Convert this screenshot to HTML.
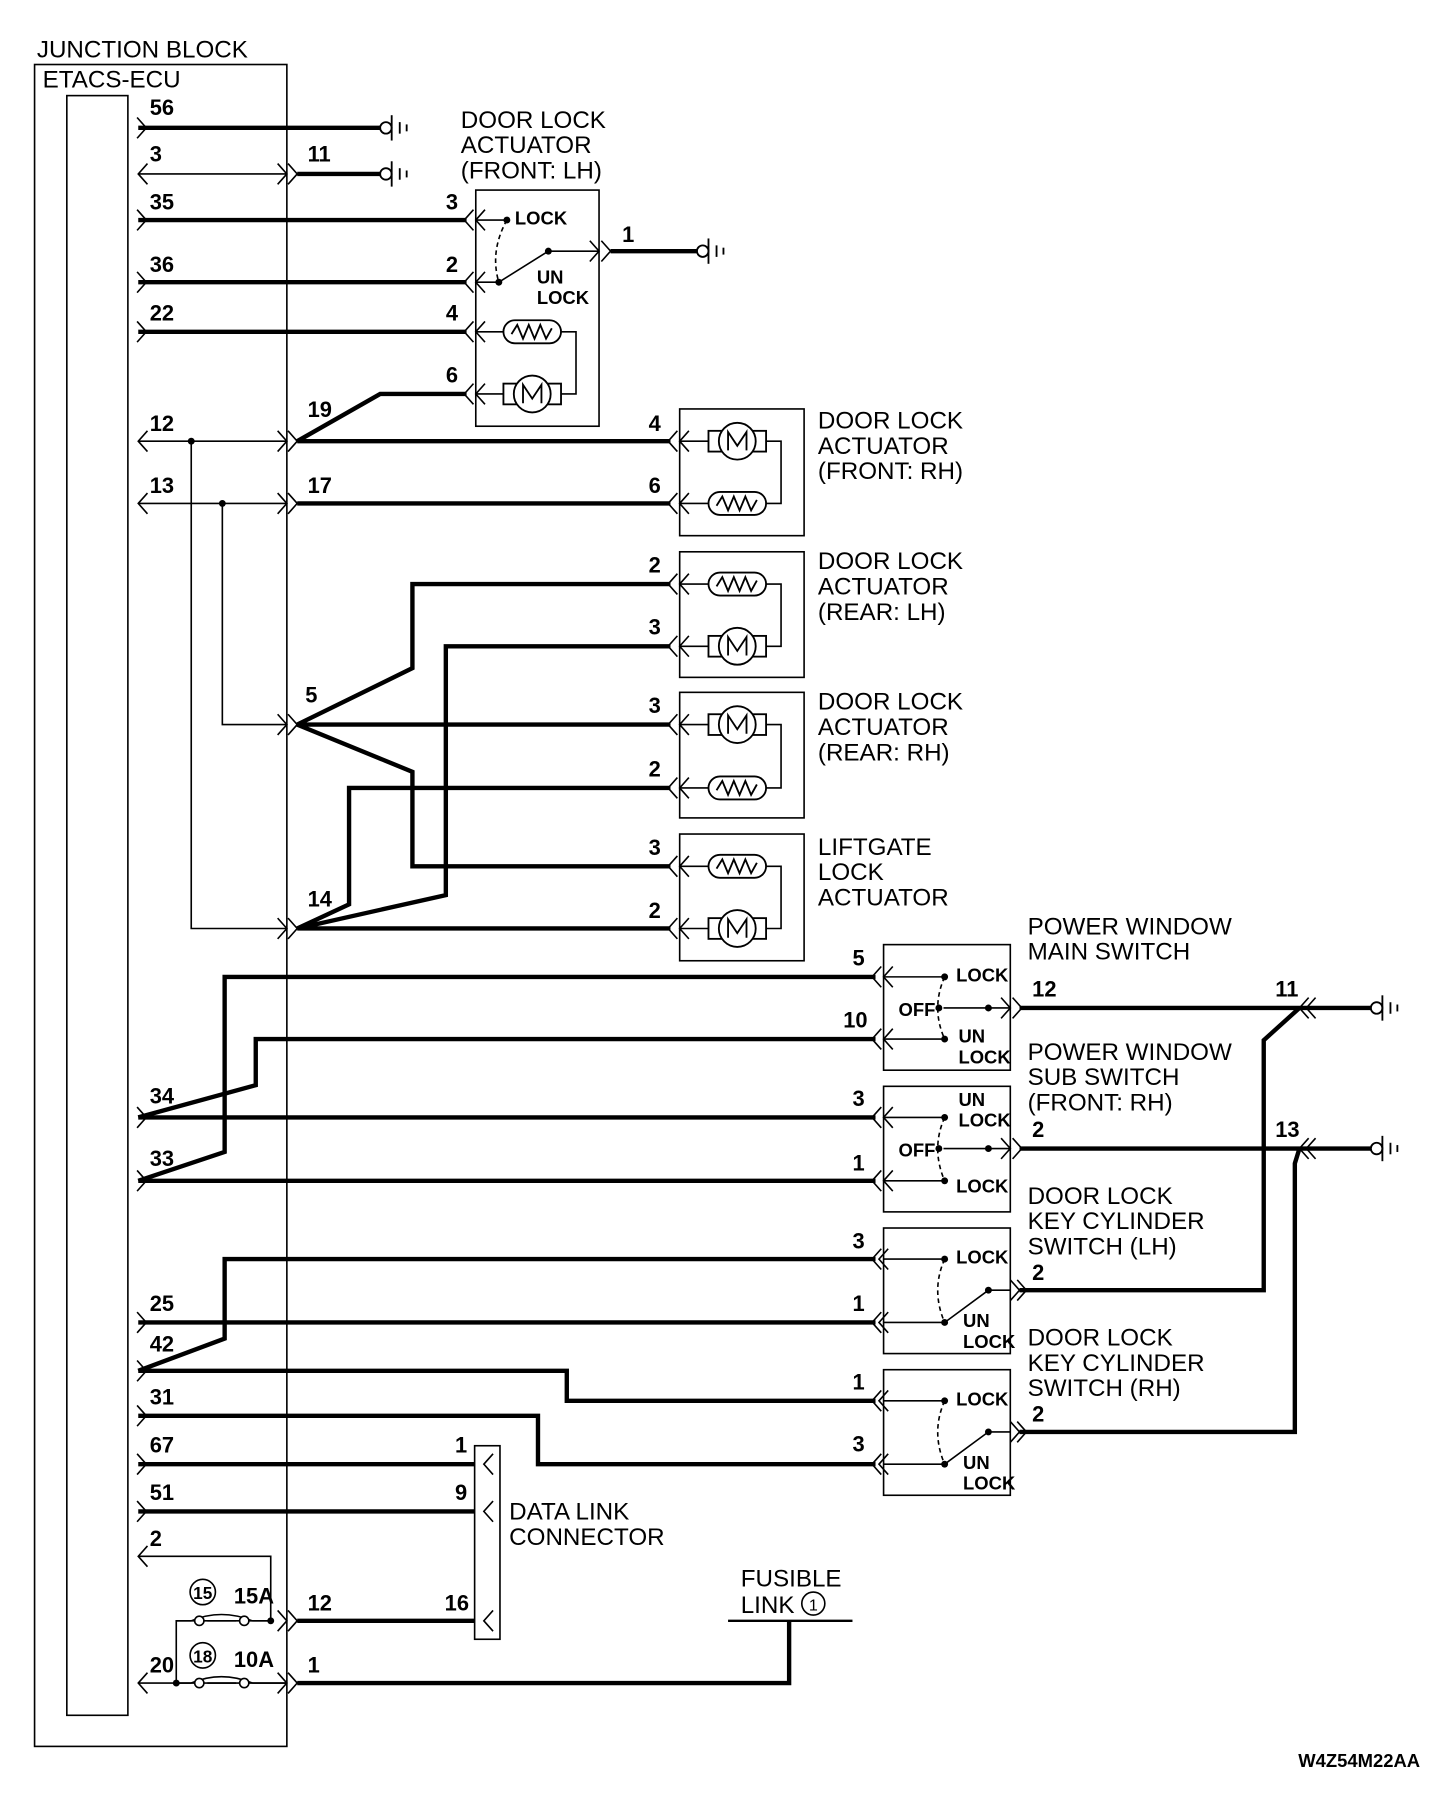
<!DOCTYPE html>
<html><head><meta charset="utf-8"><style>
html,body{margin:0;padding:0;background:#fff;}
svg{display:block;}
text{font-family:"Liberation Sans",sans-serif;fill:#000;}
.l{font-size:21px;}
.n{font-size:19px;font-weight:bold;}
.s{font-size:16px;font-weight:bold;}
</style></head><body>
<svg width="1440" height="1804" viewBox="0 0 1250 1566" xmlns="http://www.w3.org/2000/svg">
<defs>
<path id="cl" d="M8,-9 L0,0 L8,9" fill="none" stroke="#000" stroke-width="1.4"/>
<path id="cr" d="M-8,-9 L0,0 L-8,9" fill="none" stroke="#000" stroke-width="1.4"/>
<g id="cll"><path d="M8,-9 L0,0 L8,9 M14,-9 L6,0 L14,9" fill="none" stroke="#000" stroke-width="1.4"/></g>
<g id="crr"><path d="M-8,-9 L0,0 L-8,9 M-14,-9 L-6,0 L-14,9" fill="none" stroke="#000" stroke-width="1.4"/></g>
<g id="gnd" fill="none" stroke="#000" stroke-width="1.6"><circle cx="5" cy="0" r="5" fill="#fff"/><line x1="10" y1="-11" x2="10" y2="11"/><line x1="17" y1="-5" x2="17" y2="5"/><line x1="23" y1="-3" x2="23" y2="3"/></g>
<g id="res" fill="none" stroke="#000" stroke-width="1.6"><rect x="0" y="-10" width="50" height="20" rx="10"/><path d="M7,2 L12,-6 L17,6 L22,-6 L27,6 L32,-6 L37,6 L42,-3"/></g>
<g id="mot" fill="none" stroke="#000" stroke-width="1.6"><rect x="0" y="-9" width="50" height="18"/><circle cx="25" cy="0" r="16" fill="#fff"/><path d="M17,8 L17,-8 L25,4 L33,-8 L33,8"/></g>
</defs>
<g fill="none" stroke="#000" stroke-width="1.4">
<rect x="30" y="56" width="219" height="1460"/>
<rect x="58" y="83" width="53" height="1406"/>
<rect x="413" y="165" width="107" height="205"/>
<rect x="590" y="355" width="108" height="110"/>
<rect x="590" y="479" width="108" height="109"/>
<rect x="590" y="601" width="108" height="109"/>
<rect x="590" y="724" width="108" height="110"/>
<rect x="767" y="820" width="110" height="109"/>
<rect x="767" y="943" width="110" height="109"/>
<rect x="767" y="1066" width="110" height="109"/>
<rect x="767" y="1189" width="110" height="109"/>
<rect x="412" y="1255" width="22" height="168"/>
<path d="M120,151 H249"/>
<path d="M120,383 H249 M166,383 V806 H249"/>
<path d="M120,437 H249 M193,437 V629 H249"/>
<path d="M120,1351 H235 V1407 H153 V1461"/>
<path d="M120,1461 H249"/>
<path d="M413,191 H440 M413,245 H433 L476,218 H520"/>
<path d="M440,191 Q425,218 433,245" stroke-dasharray="4,3"/>
<path d="M413,288 H437 M487,288 H500 V342 H487 M413,342 H437"/>
<path d="M590,383 H615 M665,383 H678 V437 H665 M590,437 H615"/>
<path d="M590,507 H615 M665,507 H678 V561 H665 M590,561 H615"/>
<path d="M590,629 H615 M665,629 H678 V684 H665 M590,684 H615"/>
<path d="M590,752 H615 M665,752 H678 V806 H665 M590,806 H615"/>
<path d="M767,848 H820 M767,902 H820 M819,875 H877"/>
<path d="M820,848 Q808,875 820,902" stroke-dasharray="4,3"/>
<path d="M767,970 H820 M767,1025 H820 M819,997 H877"/>
<path d="M820,970 Q808,997 820,1025" stroke-dasharray="4,3"/>
<path d="M767,1093 H820 M767,1148 H820 L858,1120 H877"/>
<path d="M820,1093 Q808,1120 820,1148" stroke-dasharray="4,3"/>
<path d="M767,1216 H820 M767,1271 H820 L858,1243 H877"/>
<path d="M820,1216 Q808,1243 820,1271" stroke-dasharray="4,3"/>
<path d="M153,1407 H166 M180,1407 H205 M219,1407 H235"/>
<path d="M166,1407 Q192,1396 219,1407"/>
<path d="M153,1461 H166 M180,1461 H205 M219,1461 H249"/>
<path d="M166,1461 Q192,1450 219,1461"/>
</g>
<g fill="#fff" stroke="#000" stroke-width="1.4">
<circle cx="173" cy="1407" r="4"/><circle cx="212" cy="1407" r="4"/>
<circle cx="173" cy="1461" r="4"/><circle cx="212" cy="1461" r="4"/>
</g>
<g fill="none" stroke="#000" stroke-width="3.8">
<path d="M120,111 H330"/>
<path d="M258,151 H330"/>
<path d="M120,191 H405"/>
<path d="M120,245 H405"/>
<path d="M120,288 H405"/>
<path d="M258,383 L330,342 H405"/>
<path d="M258,383 H582"/>
<path d="M258,437 H582"/>
<path d="M530,218 H605"/>
<path d="M258,629 H582 M258,629 L358,580 V507 H582 M258,629 L358,670 V752 H582"/>
<path d="M258,806 H582 M258,806 L303,785 V684 H582 M258,806 L387,777 V561 H582"/>
<path d="M120,1025 L195,1000 V848 H760"/>
<path d="M120,970 L222,942 V902 H760"/>
<path d="M120,970 H760"/>
<path d="M120,1025 H760"/>
<path d="M885,875 H1190 M1128,875 L1097,903 V1120 H885"/>
<path d="M885,997 H1190 M1128,997 L1124,1010 V1243 H885"/>
<path d="M120,1148 H760"/>
<path d="M120,1190 L195,1162 V1093 H760"/>
<path d="M120,1190 H492 V1216 H760"/>
<path d="M120,1229 H467 V1271 H760"/>
<path d="M120,1271 H412"/>
<path d="M120,1312 H412"/>
<path d="M258,1407 H412"/>
<path d="M258,1461 H685 V1407"/>
<path d="M632,1407 H740" stroke-width="2"/>
</g>
<use href="#cr" x="127" y="111"/>
<use href="#cl" x="120" y="151"/><use href="#cr" x="249" y="151"/><use href="#cr" x="258" y="151"/>
<use href="#cr" x="127" y="191"/><use href="#cr" x="127" y="245"/><use href="#cr" x="127" y="288"/>
<use href="#cl" x="120" y="383"/><use href="#cr" x="249" y="383"/><use href="#cr" x="258" y="383"/>
<use href="#cl" x="120" y="437"/><use href="#cr" x="249" y="437"/><use href="#cr" x="258" y="437"/>
<use href="#cr" x="249" y="629"/><use href="#cr" x="258" y="629"/>
<use href="#cr" x="249" y="806"/><use href="#cr" x="258" y="806"/>
<use href="#cl" x="403" y="191"/><use href="#cl" x="413" y="191"/>
<use href="#cl" x="403" y="245"/><use href="#cl" x="413" y="245"/>
<use href="#cl" x="403" y="288"/><use href="#cl" x="413" y="288"/>
<use href="#cl" x="403" y="342"/><use href="#cl" x="413" y="342"/>
<use href="#cr" x="520" y="218"/><use href="#cr" x="530" y="218"/>
<use href="#cl" x="580" y="383"/><use href="#cl" x="590" y="383"/>
<use href="#cl" x="580" y="437"/><use href="#cl" x="590" y="437"/>
<use href="#cl" x="580" y="507"/><use href="#cl" x="590" y="507"/>
<use href="#cl" x="580" y="561"/><use href="#cl" x="590" y="561"/>
<use href="#cl" x="580" y="629"/><use href="#cl" x="590" y="629"/>
<use href="#cl" x="580" y="684"/><use href="#cl" x="590" y="684"/>
<use href="#cl" x="580" y="752"/><use href="#cl" x="590" y="752"/>
<use href="#cl" x="580" y="806"/><use href="#cl" x="590" y="806"/>
<use href="#cl" x="757" y="848"/><use href="#cl" x="767" y="848"/>
<use href="#cl" x="757" y="902"/><use href="#cl" x="767" y="902"/>
<use href="#cl" x="757" y="970"/><use href="#cl" x="767" y="970"/>
<use href="#cl" x="757" y="1025"/><use href="#cl" x="767" y="1025"/>
<use href="#cr" x="877" y="875"/><use href="#cr" x="887" y="875"/>
<use href="#cr" x="877" y="997"/><use href="#cr" x="887" y="997"/>
<use href="#cll" x="757" y="1093"/><use href="#cll" x="757" y="1148"/>
<use href="#cll" x="757" y="1216"/><use href="#cll" x="757" y="1271"/>
<use href="#crr" x="891" y="1120"/><use href="#crr" x="891" y="1243"/>
<use href="#cll" x="1128" y="875"/><use href="#cll" x="1128" y="997"/>
<use href="#cr" x="127" y="970"/><use href="#cr" x="127" y="1025"/>
<use href="#cr" x="127" y="1148"/><use href="#cr" x="127" y="1190"/><use href="#cr" x="127" y="1229"/>
<use href="#cr" x="127" y="1271"/><use href="#cr" x="127" y="1312"/><use href="#cl" x="120" y="1351"/>
<use href="#cl" x="120" y="1461"/>
<use href="#cl" x="420" y="1271"/><use href="#cl" x="420" y="1312"/><use href="#cl" x="420" y="1407"/>
<use href="#cr" x="249" y="1407"/><use href="#cr" x="258" y="1407"/>
<use href="#cr" x="249" y="1461"/><use href="#cr" x="258" y="1461"/>
<use href="#gnd" x="330" y="111"/><use href="#gnd" x="330" y="151"/><use href="#gnd" x="605" y="218"/>
<use href="#gnd" x="1190" y="875"/><use href="#gnd" x="1190" y="997"/>
<use href="#res" x="437" y="288"/><use href="#mot" x="437" y="342"/>
<use href="#mot" x="615" y="383"/><use href="#res" x="615" y="437"/>
<use href="#res" x="615" y="507"/><use href="#mot" x="615" y="561"/>
<use href="#mot" x="615" y="629"/><use href="#res" x="615" y="684"/>
<use href="#res" x="615" y="752"/><use href="#mot" x="615" y="806"/>
<g fill="#000">
<circle cx="166" cy="383" r="3"/><circle cx="193" cy="437" r="3"/>
<circle cx="440" cy="191" r="3"/><circle cx="433" cy="245" r="3"/><circle cx="476" cy="218" r="3"/>
<circle cx="820" cy="848" r="3"/><circle cx="820" cy="902" r="3"/><circle cx="815" cy="875" r="3"/><circle cx="858" cy="875" r="3"/>
<circle cx="820" cy="970" r="3"/><circle cx="820" cy="1025" r="3"/><circle cx="815" cy="997" r="3"/><circle cx="858" cy="997" r="3"/>
<circle cx="820" cy="1093" r="3"/><circle cx="820" cy="1148" r="3"/><circle cx="858" cy="1120" r="3"/>
<circle cx="820" cy="1216" r="3"/><circle cx="820" cy="1271" r="3"/><circle cx="858" cy="1243" r="3"/>
<circle cx="235" cy="1407" r="3"/><circle cx="153" cy="1461" r="3"/>
</g>
<text class="l" x="32" y="50">JUNCTION BLOCK</text>
<text class="l" x="37" y="76">ETACS-ECU</text>
<text class="l" x="400" y="111">DOOR LOCK</text><text class="l" x="400" y="133">ACTUATOR</text><text class="l" x="400" y="155">(FRONT: LH)</text>
<text class="l" x="710" y="372">DOOR LOCK</text><text class="l" x="710" y="394">ACTUATOR</text><text class="l" x="710" y="416">(FRONT: RH)</text>
<text class="l" x="710" y="494">DOOR LOCK</text><text class="l" x="710" y="516">ACTUATOR</text><text class="l" x="710" y="538">(REAR: LH)</text>
<text class="l" x="710" y="616">DOOR LOCK</text><text class="l" x="710" y="638">ACTUATOR</text><text class="l" x="710" y="660">(REAR: RH)</text>
<text class="l" x="710" y="742">LIFTGATE</text><text class="l" x="710" y="764">LOCK</text><text class="l" x="710" y="786">ACTUATOR</text>
<text class="l" x="892" y="811">POWER WINDOW</text><text class="l" x="892" y="833">MAIN SWITCH</text>
<text class="l" x="892" y="920">POWER WINDOW</text><text class="l" x="892" y="942">SUB SWITCH</text><text class="l" x="892" y="964">(FRONT: RH)</text>
<text class="l" x="892" y="1045">DOOR LOCK</text><text class="l" x="892" y="1067">KEY CYLINDER</text><text class="l" x="892" y="1089">SWITCH (LH)</text>
<text class="l" x="892" y="1168">DOOR LOCK</text><text class="l" x="892" y="1190">KEY CYLINDER</text><text class="l" x="892" y="1212">SWITCH (RH)</text>
<text class="l" x="442" y="1319">DATA LINK</text><text class="l" x="442" y="1341">CONNECTOR</text>
<text class="l" x="643" y="1377">FUSIBLE</text><text class="l" x="643" y="1400">LINK</text>
<circle cx="706" cy="1392" r="10" fill="none" stroke="#000" stroke-width="1.4"/><text x="706" y="1398" text-anchor="middle" style="font-size:14px">1</text>
<g class="n">
<text class="n" x="130" y="100">56</text><text class="n" x="130" y="140">3</text><text class="n" x="267" y="140">11</text>
<text class="n" x="130" y="182">35</text><text class="n" x="387" y="182">3</text>
<text class="n" x="130" y="236">36</text><text class="n" x="387" y="236">2</text>
<text class="n" x="130" y="278">22</text><text class="n" x="387" y="278">4</text>
<text class="n" x="387" y="332">6</text><text class="n" x="267" y="362">19</text>
<text class="n" x="130" y="374">12</text><text class="n" x="563" y="374">4</text>
<text class="n" x="130" y="428">13</text><text class="n" x="267" y="428">17</text><text class="n" x="563" y="428">6</text>
<text class="n" x="540" y="210">1</text>
<text class="n" x="563" y="497">2</text><text class="n" x="563" y="551">3</text>
<text class="n" x="265" y="610">5</text>
<text class="n" x="563" y="619">3</text><text class="n" x="563" y="674">2</text>
<text class="n" x="563" y="742">3</text><text class="n" x="563" y="797">2</text>
<text class="n" x="267" y="787">14</text>
<text class="n" x="740" y="838">5</text><text class="n" x="732" y="892">10</text>
<text class="n" x="740" y="960">3</text><text class="n" x="740" y="1016">1</text>
<text class="n" x="130" y="958">34</text><text class="n" x="130" y="1012">33</text>
<text class="n" x="896" y="865">12</text><text class="n" x="1107" y="865">11</text>
<text class="n" x="896" y="987">2</text><text class="n" x="1107" y="987">13</text>
<text class="n" x="740" y="1084">3</text><text class="n" x="740" y="1138">1</text>
<text class="n" x="896" y="1111">2</text>
<text class="n" x="130" y="1138">25</text><text class="n" x="130" y="1173">42</text><text class="n" x="130" y="1219">31</text>
<text class="n" x="740" y="1206">1</text><text class="n" x="740" y="1260">3</text><text class="n" x="896" y="1234">2</text>
<text class="n" x="130" y="1261">67</text><text class="n" x="395" y="1261">1</text>
<text class="n" x="130" y="1302">51</text><text class="n" x="395" y="1302">9</text>
<text class="n" x="130" y="1342">2</text>
<text class="n" x="267" y="1398">12</text><text class="n" x="386" y="1398">16</text>
<text class="n" x="130" y="1452">20</text><text class="n" x="267" y="1452">1</text>
<text class="n" x="203" y="1392">15A</text><text class="n" x="203" y="1447">10A</text>
</g>
<circle cx="176" cy="1382" r="11" fill="none" stroke="#000" stroke-width="1.4"/><text x="176" y="1388" text-anchor="middle" style="font-size:15px;font-weight:bold">15</text>
<circle cx="176" cy="1437" r="11" fill="none" stroke="#000" stroke-width="1.4"/><text x="176" y="1443" text-anchor="middle" style="font-size:15px;font-weight:bold">18</text>
<g class="s">
<text class="s" x="447" y="195">LOCK</text><text class="s" x="466" y="246">UN</text><text class="s" x="466" y="264">LOCK</text>
<text class="s" x="830" y="852">LOCK</text><text class="s" x="780" y="882">OFF</text><text class="s" x="832" y="905">UN</text><text class="s" x="832" y="923">LOCK</text>
<text class="s" x="832" y="960">UN</text><text class="s" x="832" y="978">LOCK</text><text class="s" x="780" y="1004">OFF</text><text class="s" x="830" y="1035">LOCK</text>
<text class="s" x="830" y="1097">LOCK</text><text class="s" x="836" y="1152">UN</text><text class="s" x="836" y="1170">LOCK</text>
<text class="s" x="830" y="1220">LOCK</text><text class="s" x="836" y="1275">UN</text><text class="s" x="836" y="1293">LOCK</text>
<text class="s" x="1127" y="1534">W4Z54M22AA</text>
</g>
</svg>
</body></html>
